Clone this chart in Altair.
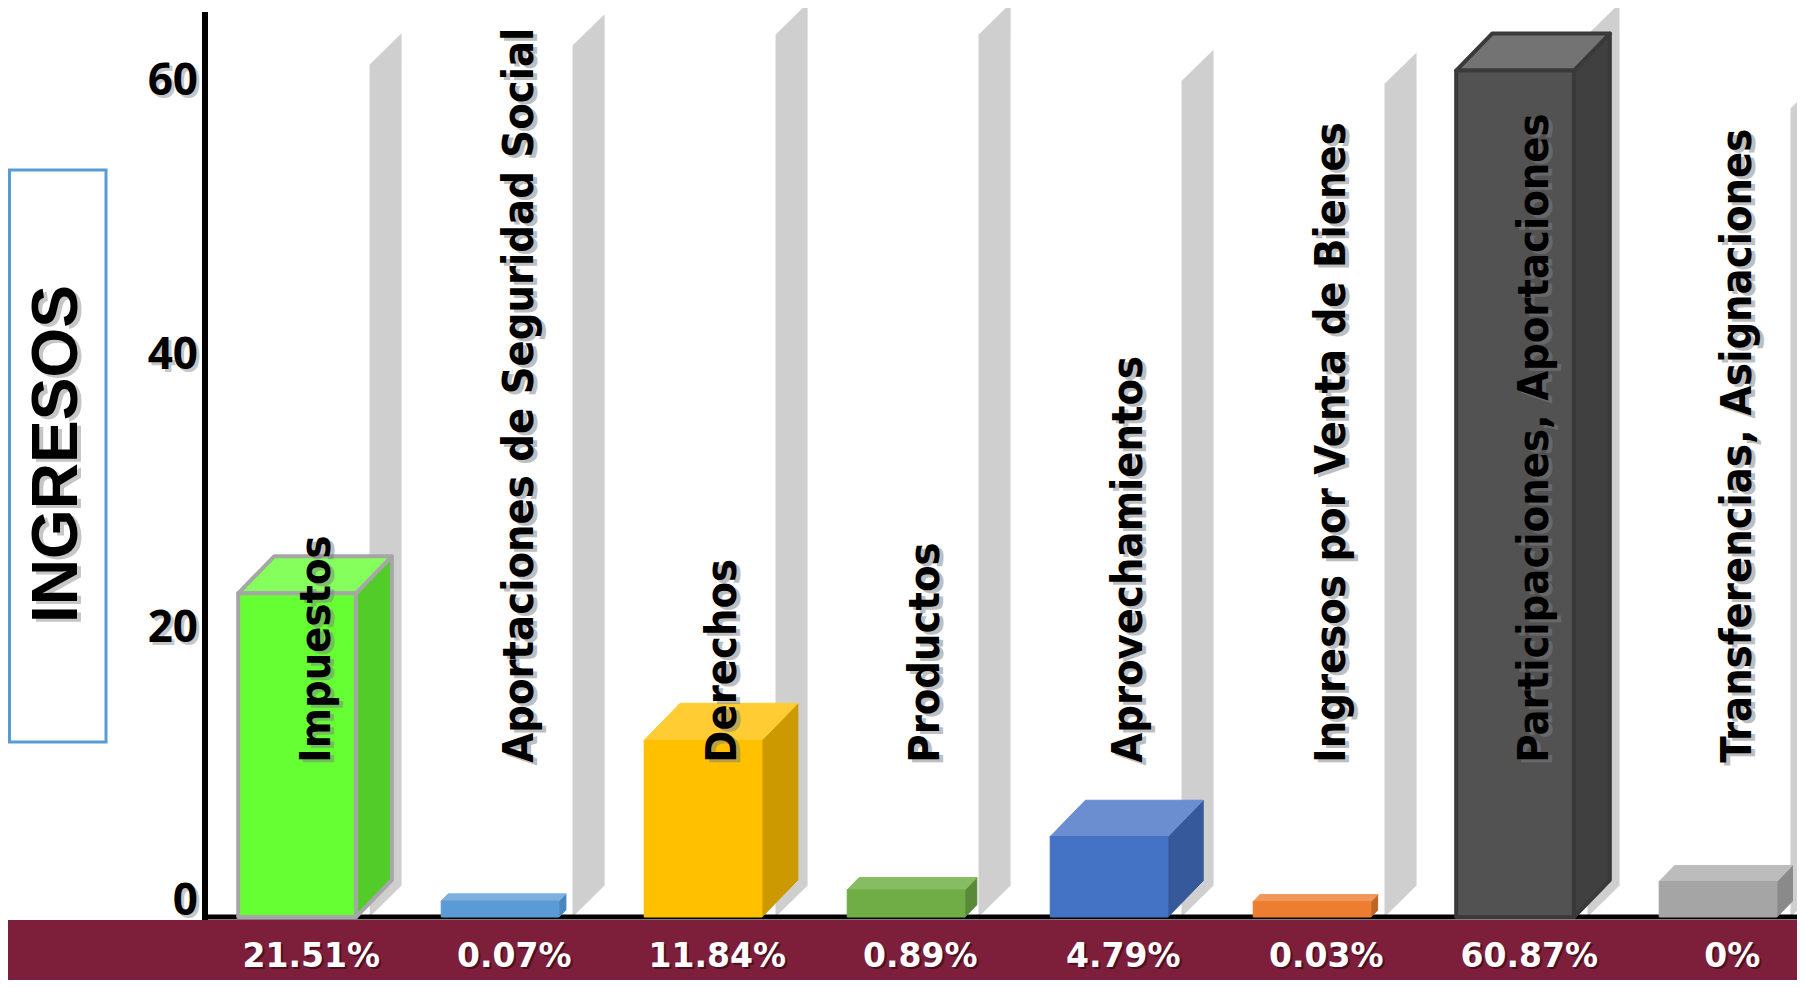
import altair as alt
import pandas as pd

# ---------------- data ----------------
categories = [
    "Impuestos",
    "Aportaciones de Seguridad Social",
    "Derechos",
    "Productos",
    "Aprovechamientos",
    "Ingresos por Venta de Bienes",
    "Participaciones, Aportaciones",
    "Transferencias, Asignaciones",
]
pct_labels = ["21.51%", "0.07%", "11.84%", "0.89%", "4.79%", "0.03%", "60.87%", "0%"]
bar_heights = [22.6, 0.07, 11.84, 0.89, 4.79, 0.03, 60.87, 1.5]   # bar heights as drawn
wall_tops = [61.3, 62.7, 63.5, 63.5, 60.1, 59.9, 63.5, 58.1]       # grey back panels
y_ticks = [0, 20, 40, 60]
y_title = "INGRESOS"

# ---------------- styles ----------------
front_colors = ["#66FF33", "#5B9BD5", "#FFC000", "#70AD47", "#4472C4", "#ED7D31", "#525252", "#A5A5A5"]
top_colors = ["#85FF5C", "#7DB0DE", "#FFCD33", "#86BD62", "#6A8ED0", "#F1975A", "#737373", "#BCBCBC"]
side_colors = ["#52CC29", "#4A86BE", "#CC9A00", "#5A8A39", "#36599C", "#BE6427", "#404040", "#8A8A8A"]
edge_colors = ["#A6A6A6", None, None, None, None, None, "#3A3A3A", None]

W, H = 1789, 972
XDOM = [-1.424, 7.389]
YDOM = [-5.71, 65.45]
BASE = -1.1
HW = 0.29
DX = 0.177
DY = 2.71
LBL_Y = 10.2
PCT_Y = -4.0
FONT_LBL = "DejaVu Sans Condensed"

xs = alt.Scale(domain=XDOM, nice=False, zero=False)
ys = alt.Scale(domain=YDOM, nice=False, zero=False)


def X(f):
    return alt.X(f, type="quantitative", scale=xs, axis=None)


def Y(f):
    return alt.Y(f, type="quantitative", scale=ys, axis=None)


front_rows, side_rows, top_rows, wall_rows = [], [], [], []
for i, (c, h) in enumerate(zip(categories, bar_heights)):
    f = min(1.0, (h - BASE) / 6.0)
    dx, dy = DX * f, DY * f
    edge = edge_colors[i]
    sw = 4 if edge else 1
    front_rows.append(dict(key=c, x0=i - HW, x1=i + HW, y0=BASE, y1=h,
                           fill=front_colors[i], stroke=edge or front_colors[i], sw=sw))
    side_rows += [
        dict(key=c, x=i + HW, lo=BASE, hi=h, fill=side_colors[i], stroke=edge or side_colors[i], sw=sw),
        dict(key=c, x=i + HW + dx, lo=BASE + dy, hi=h + dy, fill=side_colors[i], stroke=edge or side_colors[i], sw=sw),
    ]
    top_rows += [
        dict(key=c, x=i - HW, lo=h, hi=h, fill=top_colors[i], stroke=edge or top_colors[i], sw=sw),
        dict(key=c, x=i - HW + dx, lo=h, hi=h + dy, fill=top_colors[i], stroke=edge or top_colors[i], sw=sw),
        dict(key=c, x=i + HW, lo=h, hi=h + dy, fill=top_colors[i], stroke=edge or top_colors[i], sw=sw),
        dict(key=c, x=i + HW + dx, lo=h + dy, hi=h + dy, fill=top_colors[i], stroke=edge or top_colors[i], sw=sw),
    ]
    wl = i + 0.357
    wall_rows += [
        dict(key=c, x=wl, lo=BASE, hi=wall_tops[i]),
        dict(key=c, x=wl + 0.158, lo=BASE + 2.3, hi=wall_tops[i] + 2.3),
    ]

front_df = pd.DataFrame(front_rows)
side_df = pd.DataFrame(side_rows)
top_df = pd.DataFrame(top_rows)
wall_df = pd.DataFrame(wall_rows)
n = len(categories)
lab_df = pd.DataFrame(dict(cat=categories, pct=pct_labels,
                           x=[i + 0.1 for i in range(n)],
                           xp=[i + 0.07 for i in range(n)],
                           ly=[LBL_Y] * n, py=[PCT_Y] * n))
tick_df = pd.DataFrame(dict(v=y_ticks, t=[str(t) for t in y_ticks]))
one = pd.DataFrame(dict(t=[y_title]))

band = alt.Chart(one).mark_rect(color="#7D1F3B").encode(
    x=alt.value(0), x2=alt.value(W), y=alt.value(912), y2=alt.value(H))

walls = alt.Chart(wall_df).mark_area(color="#CFCFCF", interpolate="linear").encode(
    x=X("x"), y=Y("lo"), y2="hi", detail="key:N")

baseline = alt.Chart(one).mark_rule(color="black", strokeWidth=5).encode(
    x=alt.value(197), x2=alt.value(W), y=alt.value(909))

faces = []
for df in (side_df, top_df):
    faces.append(alt.Chart(df).mark_area(interpolate="linear", strokeJoin="round").encode(
        x=X("x"), y=Y("lo"), y2="hi", detail="key:N",
        fill=alt.Fill("fill:N", scale=None),
        stroke=alt.Stroke("stroke:N", scale=None),
        strokeWidth=alt.StrokeWidth("sw:Q", scale=None)))

front = alt.Chart(front_df).mark_rect(strokeJoin="round").encode(
    x=X("x0"), x2="x1", y=Y("y0"), y2="y1",
    fill=alt.Fill("fill:N", scale=None),
    stroke=alt.Stroke("stroke:N", scale=None),
    strokeWidth=alt.StrokeWidth("sw:Q", scale=None))

lbl_kw = dict(angle=270, align="left", baseline="middle", font=FONT_LBL,
              fontWeight="bold", fontSize=43)
lbl_shadow = alt.Chart(lab_df).mark_text(color="#7F7F7F", opacity=0.5, dx=-3, dy=4, **lbl_kw).encode(
    x=X("x"), y=Y("ly"), text="cat:N")
lbl = alt.Chart(lab_df).mark_text(color="black", **lbl_kw).encode(
    x=X("x"), y=Y("ly"), text="cat:N")

pct_kw = dict(align="center", baseline="middle", font="DejaVu Sans", fontWeight="bold", fontSize=33)
pct_shadow = alt.Chart(lab_df).mark_text(color="#3A0A18", opacity=0.7, dx=2, dy=2, **pct_kw).encode(
    x=X("xp"), y=Y("py"), text="pct:N")
pct = alt.Chart(lab_df).mark_text(color="white", **pct_kw).encode(
    x=X("xp"), y=Y("py"), text="pct:N")

tick_kw = dict(align="right", baseline="middle", font="Open Sans", fontWeight="bold", fontSize=44)
tick_shadow = alt.Chart(tick_df).mark_text(color="#8F8F8F", opacity=0.5, dx=3, dy=3, **tick_kw).encode(
    x=alt.value(190), y=Y("v"), text="t:N")
ticks = alt.Chart(tick_df).mark_text(color="black", **tick_kw).encode(
    x=alt.value(190), y=Y("v"), text="t:N")

vaxis = alt.Chart(one).mark_rule(color="black", strokeWidth=6).encode(
    x=alt.value(197), y=alt.value(4), y2=alt.value(912))

box = alt.Chart(one).mark_rect(fill="white", stroke="#5B9BD5", strokeWidth=3).encode(
    x=alt.value(1.5), x2=alt.value(98), y=alt.value(162), y2=alt.value(734))
title_shadow = alt.Chart(one).mark_text(angle=270, align="center", baseline="middle",
                                        font="Liberation Sans", fontWeight="bold", fontSize=64,
                                        color="#8F8F8F", opacity=0.5, dx=-3, dy=4).encode(
    x=alt.value(50), y=alt.value(446), text="t:N")
title = alt.Chart(one).mark_text(angle=270, align="center", baseline="middle",
                                 font="Liberation Sans", fontWeight="bold", fontSize=64,
                                 color="black").encode(
    x=alt.value(50), y=alt.value(446), text="t:N")

chart = alt.layer(
    band, walls, baseline, *faces, front,
    lbl_shadow, lbl, pct_shadow, pct, tick_shadow, ticks, vaxis,
    box, title_shadow, title,
).properties(
    width=W, height=H, padding=0, background="white",
    autosize=alt.AutoSizeParams(type="none"),
).configure_view(stroke=None)

chart.save("out.html", embed_options={"renderer": "svg", "actions": False})
